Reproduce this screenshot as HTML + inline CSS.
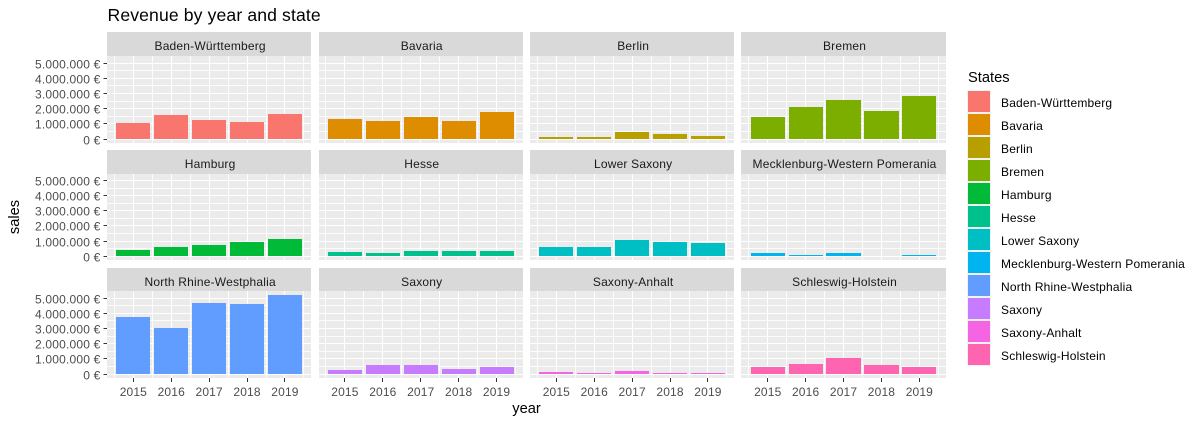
<!DOCTYPE html>
<html lang="en">
<head>
<meta charset="utf-8">
<title>Revenue by year and state</title>
<style>
html,body{margin:0;padding:0;background:#fff;width:1200px;height:423px;overflow:hidden}
svg{display:block}
text{font-family:"Liberation Sans",Arial,sans-serif}
</style>
</head>
<body>
<svg id="chart" width="1200" height="423" viewBox="0 0 1200 423" xmlns="http://www.w3.org/2000/svg">
  <rect x="0" y="0" width="1200" height="423" fill="#fff"/>
  <text x="107.5" y="21" font-size="17.6" letter-spacing="0.12" fill="#000">Revenue by year and state</text>
  <text x="526.5" y="413" font-size="14.67" fill="#000" text-anchor="middle">year</text>
  <text x="19" y="217" font-size="14.67" fill="#000" text-anchor="middle" transform="rotate(-90 19 217)">sales</text>
  <text x="968" y="82" font-size="14.67" fill="#000">States</text>
</svg>
<script>
const years = [2015, 2016, 2017, 2018, 2019];
const states = ["Baden-Württemberg", "Bavaria", "Berlin", "Bremen", "Hamburg", "Hesse", "Lower Saxony", "Mecklenburg-Western Pomerania", "North Rhine-Westphalia", "Saxony", "Saxony-Anhalt", "Schleswig-Holstein"];
const salesBadenWurttemberg = [1050000, 1580000, 1250000, 1120000, 1640000];
const salesBavaria = [1320000, 1180000, 1450000, 1180000, 1780000];
const salesBerlin = [130000, 130000, 460000, 330000, 200000];
const salesBremen = [1450000, 2100000, 2560000, 1840000, 2850000];
const salesHamburg = [420000, 600000, 750000, 950000, 1130000];
const salesHesse = [280000, 200000, 350000, 350000, 350000];
const salesLowerSaxony = [600000, 600000, 1070000, 950000, 880000];
const salesMecklenburg = [200000, 70000, 200000, 0, 70000];
const salesNorthRhine = [3750000, 3030000, 4670000, 4600000, 5200000];
const salesSaxony = [270000, 600000, 600000, 330000, 460000];
const salesSaxonyAnhalt = [130000, 60000, 200000, 60000, 60000];
const salesSchleswig = [460000, 660000, 1050000, 600000, 460000];
const yTickValues = [0, 1000000, 2000000, 3000000, 4000000, 5000000];
const yTickLabels = ["0 €", "1.000.000 €", "2.000.000 €", "3.000.000 €", "4.000.000 €", "5.000.000 €"];
const stateColors = ["#F8766D", "#DE8C00", "#B79F00", "#7CAE00", "#00BA38", "#00C08B", "#00BFC4", "#00B4F0", "#619CFF", "#C77CFF", "#F564E3", "#FF64B0"];

const allSales = [salesBadenWurttemberg, salesBavaria, salesBerlin, salesBremen, salesHamburg, salesHesse, salesLowerSaxony, salesMecklenburg, salesNorthRhine, salesSaxony, salesSaxonyAnhalt, salesSchleswig];

const svg = document.getElementById('chart');
const NS = 'http://www.w3.org/2000/svg';

// Layout
const panelWidth = 204.3;
const colLeft = function (c) { return [107, 318.6, 530, 741.4][c]; };
const stripTop = function (r) { return [32, 150, 268][r]; };
const panelTop = function (r) { return [56, 174, 291][r]; };
const panelBottom = function (r) { return [143, 260, 377.5][r]; };
const zeroY = function (r) { return [139, 256.4, 374][r]; };

// Axis functions
const xDomainMin = 2014.305;
const xDomainMax = 2019.695;
function xScale(c, year) {
  return colLeft(c) + (year - xDomainMin) / (xDomainMax - xDomainMin) * panelWidth;
}
function yScale(r, value) {
  return zeroY(r) - value / 1000000 * 15.2;
}

function mk(tag, attrs, parent) {
  const el = document.createElementNS(NS, tag);
  Object.keys(attrs).forEach(function (k) { el.setAttribute(k, attrs[k]); });
  parent.appendChild(el);
  return el;
}

states.forEach(function (state, i) {
  const c = i % 4;
  const r = Math.floor(i / 4);
  const left = colLeft(c);
  const top = panelTop(r);
  const bottom = panelBottom(r);
  const right = left + panelWidth;
  const slug = state.toLowerCase().replace(/[^a-z]+/g, '-');

  const g = mk('g', {}, svg);
  
  

  const strip = mk('rect', { x: Math.round(left), y: stripTop(r), width: Math.round(right) - Math.round(left), height: top - stripTop(r), fill: '#D9D9D9' }, g);
  
  

  const stripLabel = mk('text', { x: left + panelWidth / 2 + 1, y: stripTop(r) + 18, 'font-size': 12, 'letter-spacing': 0.19, fill: '#1A1A1A', 'text-anchor': 'middle' }, g);
  stripLabel.textContent = state;
  
  

  const panel = mk('rect', { x: Math.round(left), y: top, width: Math.round(right) - Math.round(left), height: Math.round(bottom) - top, fill: '#EBEBEB' }, g);
  
  

  // Horizontal grid (major and minor)
  yTickValues.forEach(function (v) {
    const yMajor = Math.floor(yScale(r, v)) + 0.5;
    const major = mk('line', { x1: Math.round(left), x2: Math.round(right), y1: yMajor, y2: yMajor, stroke: '#fff', 'stroke-width': 1, 'shape-rendering': 'crispEdges' }, g);
    
    
    const yMinor = Math.floor(yScale(r, v + 500000)) + 0.5;
    if (yMinor > top) {
      const minor = mk('line', { x1: Math.round(left), x2: Math.round(right), y1: yMinor, y2: yMinor, stroke: '#fff', 'stroke-width': 1, 'stroke-opacity': 0.85, 'shape-rendering': 'crispEdges' }, g);
      
      
    }
  });

  // Vertical grid (major and minor)
  years.forEach(function (year, k) {
    const xMajor = Math.floor(xScale(c, year)) + 0.5;
    const vMajor = mk('line', { x1: xMajor, x2: xMajor, y1: top, y2: Math.round(bottom), stroke: '#fff', 'stroke-width': 1, 'shape-rendering': 'crispEdges' }, g);
    
    
    const xMinor = Math.floor(xScale(c, year - 0.5)) + 0.5;
    const vMinor = mk('line', { x1: xMinor, x2: xMinor, y1: top, y2: Math.round(bottom), stroke: '#fff', 'stroke-width': 1, 'stroke-opacity': 0.85, 'shape-rendering': 'crispEdges' }, g);
    
    
    if (k === years.length - 1) {
      const xLast = Math.floor(xScale(c, year + 0.5)) + 0.5;
      const vLast = mk('line', { x1: xLast, x2: xLast, y1: top, y2: Math.round(bottom), stroke: '#fff', 'stroke-width': 1, 'stroke-opacity': 0.85, 'shape-rendering': 'crispEdges' }, g);
      
      
    }
  });

  // Bars
  years.forEach(function (year, k) {
    const v = allSales[i][k];
    const x0 = Math.round(xScale(c, year - 0.45));
    const x1 = Math.round(xScale(c, year + 0.45));
    const y0 = Math.round(yScale(r, 0));
    const y1 = Math.round(yScale(r, v));
    const bar = mk('rect', { x: x0, y: y1, width: x1 - x0, height: y0 - y1, fill: stateColors[i], 'shape-rendering': 'crispEdges' }, g);
    
    
  });

  // Y axis on first column
  if (c === 0) {
    yTickValues.forEach(function (v, k) {
      const yy = Math.floor(yScale(r, v)) + 0.5;
      const tick = mk('line', { x1: 103.5, x2: left, y1: yy, y2: yy, stroke: '#333', 'stroke-width': 1, 'shape-rendering': 'crispEdges' }, g);
      
      
      const label = mk('text', { x: 100.5, y: yy + 5, 'font-size': 12, 'letter-spacing': 0.19, fill: '#4D4D4D', 'text-anchor': 'end' }, g);
      label.textContent = yTickLabels[k];
      
      
    });
  }

  // X axis on last row
  if (r === 2) {
    years.forEach(function (year) {
      const xx = Math.floor(xScale(c, year)) + 0.5;
      const tick = mk('line', { x1: xx, x2: xx, y1: Math.round(bottom), y2: Math.round(bottom) + 4, stroke: '#333', 'stroke-width': 1, 'shape-rendering': 'crispEdges' }, g);
      
      
      const label = mk('text', { x: xScale(c, year), y: 396, 'font-size': 12, 'letter-spacing': 0.15, fill: '#4D4D4D', 'text-anchor': 'middle' }, g);
      label.textContent = String(year);
      
      
    });
  }

  // Legend entry
  const keyTop = 90 + i * 23;
  const entry = mk('g', {}, svg);
  
  
  const keyBg = mk('rect', { x: 967, y: keyTop, width: 24, height: 23, fill: '#F2F2F2' }, entry);
  
  
  const key = mk('rect', { x: 968, y: keyTop + 1, width: 22, height: 21, fill: stateColors[i] }, entry);
  
  
  const legendLabel = mk('text', { x: 1001, y: keyTop + 17, 'font-size': 12, 'letter-spacing': 0.19, fill: '#000' }, entry);
  legendLabel.textContent = state;
  
  
});
</script>
</body>
</html>
